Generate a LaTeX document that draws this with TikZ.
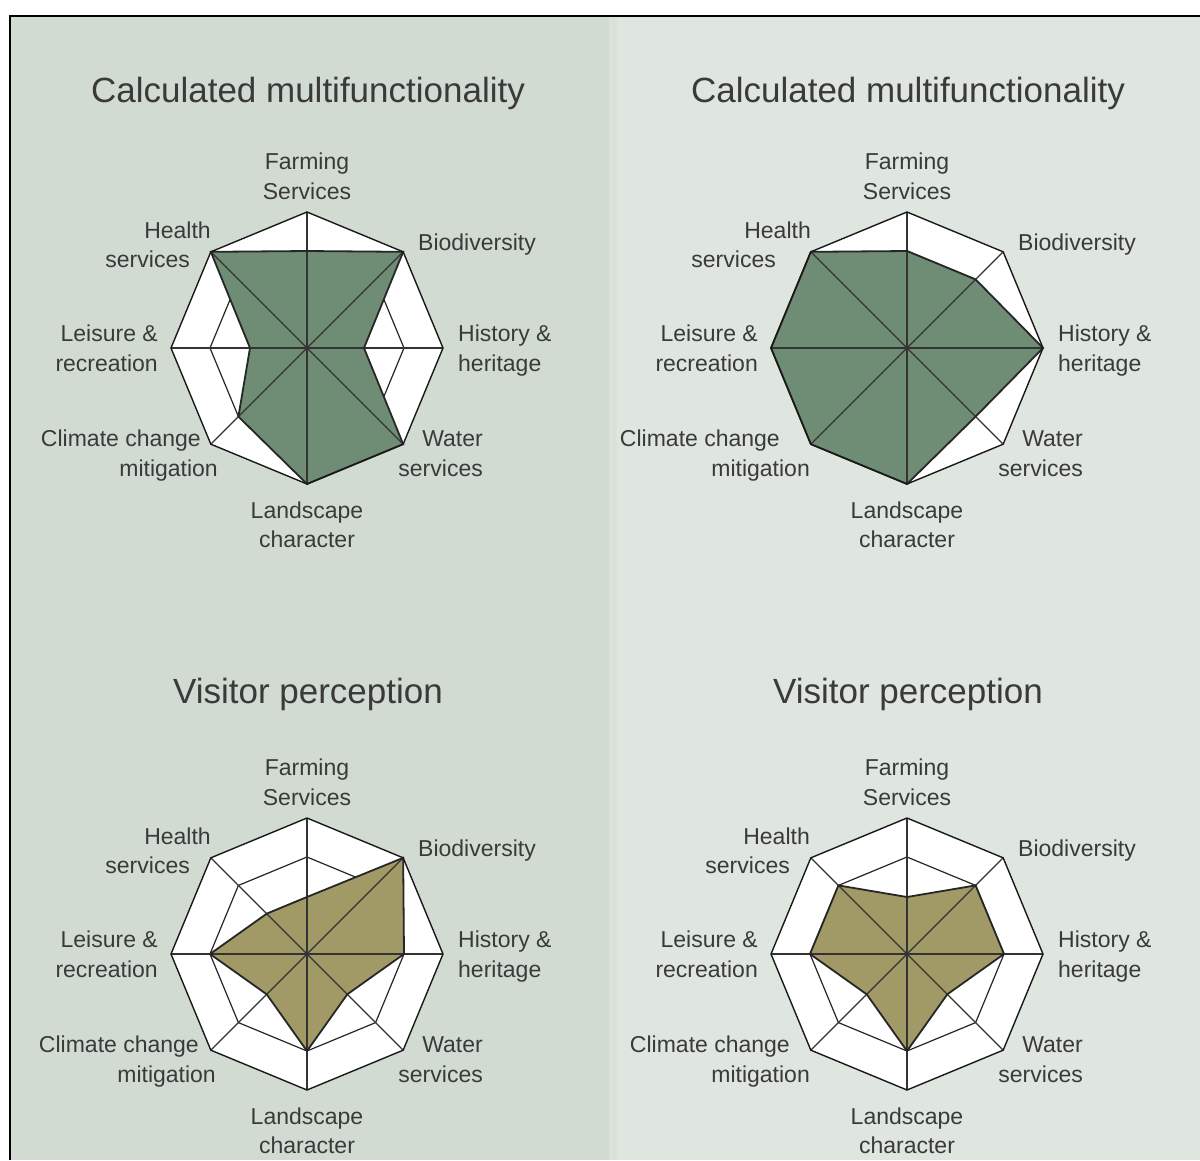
\documentclass[tikz,border=0pt]{standalone}
\usepackage{fontspec}
\setmainfont{Liberation Sans}
\definecolor{labcol}{HTML}{3A3A3A}
\definecolor{leftbg}{HTML}{D2DBD1}
\definecolor{rightbg}{HTML}{DEE6DF}
\definecolor{divcol}{HTML}{DAE2DA}
\definecolor{greenfill}{HTML}{6F8D74}
\definecolor{olivefill}{HTML}{A29A66}
\newcommand{\labfont}{\fontsize{23}{28}\selectfont}
\newcommand{\ttlfont}{\fontsize{35}{40}\selectfont}
\newcommand{\octpath}[1]{(90:#1) -- (45:#1) -- (0:#1) -- (-45:#1) -- (-90:#1) -- (-135:#1) -- (180:#1) -- (135:#1) -- cycle}
\newcommand{\datapath}[8]{(90:#1) -- (45:#2) -- (0:#3) -- (-45:#4) -- (-90:#5) -- (-135:#6) -- (180:#7) -- (135:#8) -- cycle}
\tikzset{
  lab/.style={font=\labfont, text=labcol, inner sep=0pt},
  ttl/.style={font=\ttlfont, text=labcol, inner sep=0pt, anchor=base},
  ringline/.style={draw=black!85, line width=1.2pt, line join=miter},
  outerline/.style={draw=black!90, line width=1.4pt, line join=miter},
  axisline/.style={draw=black!80, line width=1.1pt},
  dataline/.style={draw=black!85, line width=1.8pt, line join=miter}
}
% #1 prefix, #2 health right, #3 hservices right, #4 climate right, #5 mitigation right
\newcommand{\chartlabels}[5]{%
  \node[lab, anchor=base] (#1farmA) at (0,179) {Farming};
  \node[lab, anchor=base] (#1farmB) at (0,149) {Services};
  \node[lab, anchor=base east] (#1heaA) at (#2,110) {Health};
  \node[lab, anchor=base east] (#1heaB) at (#3,81) {services};
  \node[lab, anchor=base west] (#1bio) at (111,98) {Biodiversity};
  \node[lab, anchor=base east] (#1leiA) at (-149,7) {Leisure \&};
  \node[lab, anchor=base east] (#1leiB) at (-149,-23) {recreation};
  \node[lab, anchor=base west] (#1hisA) at (151,7) {History \&};
  \node[lab, anchor=base west] (#1hisB) at (151,-23) {heritage};
  \node[lab, anchor=base east] (#1cliA) at (#4,-98) {Climate change};
  \node[lab, anchor=base east] (#1cliB) at (#5,-128) {mitigation};
  \node[lab, anchor=base east] (#1watA) at (176,-98) {Water};
  \node[lab, anchor=base east] (#1watB) at (176,-128) {services};
  \node[lab, anchor=base] (#1lanA) at (0,-170) {Landscape};
  \node[lab, anchor=base] (#1lanB) at (0,-199) {character};
}
% #1 fill colour, #2..#9 radii
\newcommand{\radarbody}[9]{%
  \fill[white] \octpath{136};
  \draw[ringline] \octpath{57};
  \draw[ringline] \octpath{97};
  \fill[#1] \datapath{#2}{#3}{#4}{#5}{#6}{#7}{#8}{#9};
  \foreach \a in {0,45,...,315} {\draw[axisline] (0,0) -- (\a:136);}
  \draw[dataline] \datapath{#2}{#3}{#4}{#5}{#6}{#7}{#8}{#9};
  \draw[outerline] \octpath{136};
}
\begin{document}
\begin{tikzpicture}[x=1pt,y=-1pt]
\useasboundingbox (0,0) rectangle (1200,1160);
\fill[white] (0,0) rectangle (1200,1160);
\fill[leftbg] (10,16) rectangle (609,1160);
\fill[rightbg] (609,16) rectangle (1200,1160);
\fill[divcol] (609,16) rectangle (617,1160);
\draw[line width=2.4pt] (10,1160) -- (10,16) -- (1200,16);

\node[ttl] (t1) at (308,102) {Calculated multifunctionality};
\node[ttl] (t2) at (908,102) {Calculated multifunctionality};
\node[ttl] (t3) at (308,703) {Visitor perception};
\node[ttl] (t4) at (908,703) {Visitor perception};

\begin{scope}[shift={(307,348)}, yscale=-1]
  \radarbody{greenfill}{97}{136}{57}{136}{136}{97}{57}{136}
  \chartlabels{a}{-96}{-117}{-106}{-89}
\end{scope}
\begin{scope}[shift={(907,348)}, yscale=-1]
  \radarbody{greenfill}{97}{97}{136}{97}{136}{136}{136}{136}
  \chartlabels{b}{-96}{-131}{-127}{-97}
\end{scope}
\begin{scope}[shift={(307,954)}, yscale=-1]
  \radarbody{olivefill}{57}{136}{97}{57}{97}{57}{97}{57}
  \chartlabels{c}{-96}{-117}{-108}{-91}
\end{scope}
\begin{scope}[shift={(907,954)}, yscale=-1]
  \radarbody{olivefill}{57}{97}{97}{57}{97}{57}{97}{97}
  \chartlabels{d}{-97}{-117}{-117}{-97}
\end{scope}
\end{tikzpicture}
\end{document}
